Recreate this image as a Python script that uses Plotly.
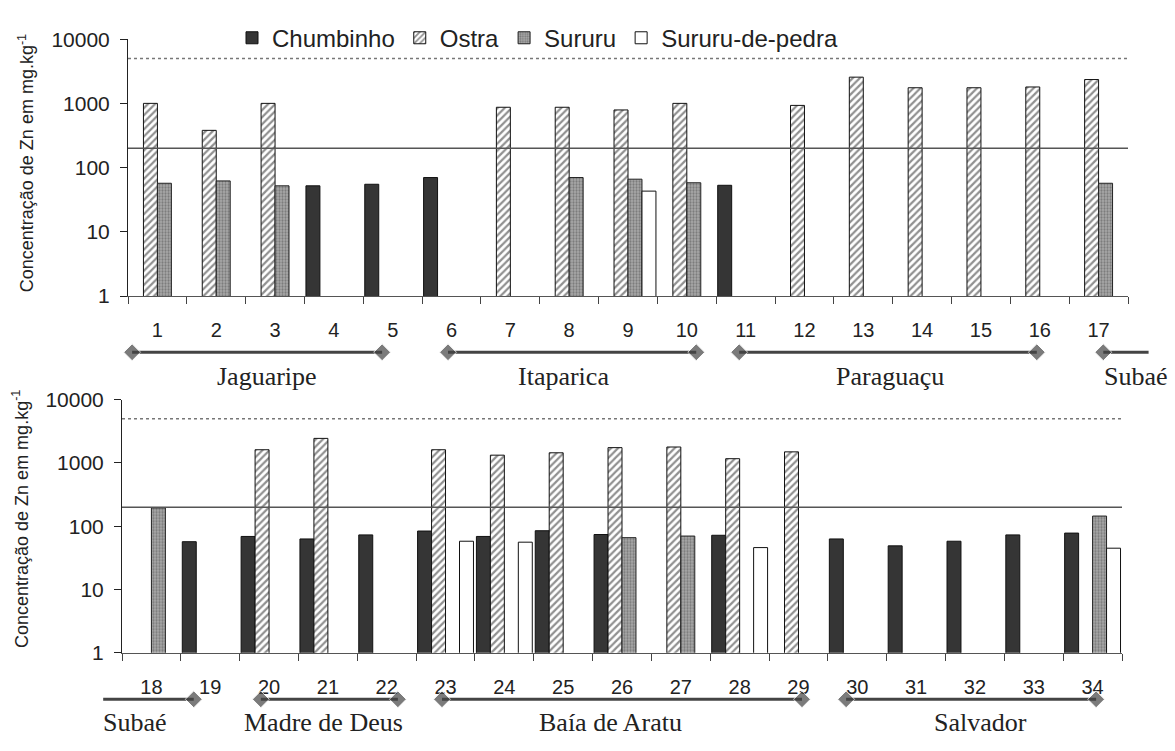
import plotly.graph_objects as go

W, H = 1175, 751

# ---------------- data ----------------
stations_top = list(range(1, 18))
stations_bot = list(range(18, 35))

chumbinho_top = [None, None, None, 52, 55, 70, None, None, None, None, 53, None, None, None, None, None, None]
ostra_top = [1000, 380, 1000, None, None, None, 870, 870, 790, 1000, None, 930, 2560, 1750, 1750, 1800, 2350]
sururu_top = [57, 62, 52, None, None, None, None, 70, 66, 58, None, None, None, None, None, None, 57]
pedra_top = [None, None, None, None, None, None, None, None, 43, None, None, None, None, None, None, None, None]

chumbinho_bot = [None, 57, 69, 63, 73, 84, 69, 85, 74, None, 72, None, 63, 49, 58, 73, 78]
ostra_bot = [None, None, 1620, 2450, None, 1620, 1330, 1450, 1750, 1790, 1170, 1500, None, None, None, None, None]
sururu_bot = [195, None, None, None, None, None, None, None, 66, 70, None, None, None, None, None, None, 145]
pedra_bot = [None, None, None, None, None, 58, 56, None, None, None, 46, None, None, None, None, None, 45]

series_names = ["Chumbinho", "Ostra", "Sururu", "Sururu-de-pedra"]
y_ticks = [1, 10, 100, 1000, 10000]
limit_solid = 200
limit_dotted = 5000

regions_top = [("Jaguaripe", 0.57, 4.82, 2.86, True, True),
               ("Itaparica", 5.94, 10.16, 7.9, True, True),
               ("Paraguaçu", 10.89, 15.95, 13.45, True, True),
               ("Subaé", 17.08, 17.85, 17.64, True, False)]
regions_bot = [("Subaé", 17.18, 18.72, 17.72, False, True),
               ("Madre de Deus", 19.86, 22.19, 20.93, True, True),
               ("Baía de Aratu", 22.94, 29.06, 25.8, True, True),
               ("Salvador", 29.81, 34.06, 32.1, True, True)]

# ---------------- geometry (pixels) ----------------
TOP = dict(x0=128, x1=1128, y10k=28, y1=293, lo=0.5, hi=17.5)
BOT = dict(x0=122, x1=1122, y10k=400, y1=661, lo=17.5, hi=34.5)

SANS = "Liberation Sans"
SERIF = "Liberation Serif"

styles = [
    dict(color="#353535", line=dict(color="#111", width=1)),
    dict(color="white", line=dict(color="#111", width=1),
         pattern=dict(shape="/", fgcolor="#222", bgcolor="white", size=5, solidity=0.45)),
    dict(color="#a0a0a0", line=dict(color="#222", width=1),
         pattern=dict(shape=".", fgcolor="#4a4a4a", bgcolor="#ababab", size=3, solidity=0.45)),
    dict(color="white", line=dict(color="#111", width=1)),
]

fig = go.Figure()

top_series = [chumbinho_top, ostra_top, sururu_top, pedra_top]
bot_series = [chumbinho_bot, ostra_bot, sururu_bot, pedra_bot]

for i, (name, vals) in enumerate(zip(series_names, top_series)):
    fig.add_trace(go.Bar(x=stations_top, y=vals, name=name, marker=styles[i],
                         xaxis="x", yaxis="y", legendgroup=name, showlegend=True))
for i, (name, vals) in enumerate(zip(series_names, bot_series)):
    fig.add_trace(go.Bar(x=stations_bot, y=vals, name=name, marker=styles[i],
                         xaxis="x2", yaxis="y2", legendgroup=name, showlegend=False))

# limit lines
for g, xa, ya in [(TOP, "x", "y"), (BOT, "x2", "y2")]:
    fig.add_trace(go.Scatter(x=[g["lo"], g["hi"]], y=[limit_solid, limit_solid], mode="lines",
                             line=dict(color="#555", width=1.6), xaxis=xa, yaxis=ya,
                             showlegend=False, hoverinfo="skip"))
    fig.add_trace(go.Scatter(x=[g["lo"], g["hi"]], y=[limit_dotted, limit_dotted], mode="lines",
                             line=dict(color="#777", width=1.5, dash="dot"), xaxis=xa, yaxis=ya,
                             showlegend=False, hoverinfo="skip"))


def xrange_full(g):
    ppu = (g["x1"] - g["x0"]) / (g["hi"] - g["lo"])
    return [g["lo"] - g["x0"] / ppu, g["hi"] + (W - g["x1"]) / ppu]


# region brackets on full-page overlay axes
annotations = []
for regions, xa, line_y, lab_y in [(regions_top, "x3", 351, 376), (regions_bot, "x4", 709, 733)]:
    for name, a, b, c, da, db in regions:
        fig.add_trace(go.Scatter(x=[a, b], y=[line_y, line_y], mode="lines+markers",
                                 line=dict(color="#444", width=3),
                                 marker=dict(symbol="diamond", size=[13 if da else 0, 13 if db else 0],
                                             color="#444"),
                                 xaxis=xa, yaxis="y3", showlegend=False, hoverinfo="skip"))
        annotations.append(dict(x=c, y=lab_y, xref=xa, yref="y3", text=name, showarrow=False,
                                xanchor="center", yanchor="middle",
                                font=dict(family=SERIF, size=26, color="#222")))

# y titles
for xc, yc in [(26, 156), (21, 523)]:
    annotations.append(dict(x=xc / W, y=1 - yc / H, xref="paper", yref="paper",
                            xanchor="center", yanchor="middle",
                            text="Concentração de Zn em mg.kg<sup>-1</sup>", textangle=-90,
                            showarrow=False, font=dict(family=SANS, size=18, color="#222")))


def xaxis_def(g, anchor):
    bounds = [g["lo"] + k for k in range(int(g["hi"] - g["lo"]) + 1)]
    return dict(domain=[g["x0"] / W, g["x1"] / W], range=[g["lo"], g["hi"]], anchor=anchor,
                tickmode="array", tickvals=list(range(int(g["lo"] + 0.5), int(g["hi"] + 0.5))),
                ticks="", showline=True, linecolor="#555", linewidth=1, showgrid=False,
                zeroline=False, ticklabelstandoff=16,
                tickfont=dict(family=SANS, size=20, color="#222"),
                minor=dict(tickmode="array", tickvals=bounds, ticks="outside", ticklen=7,
                           tickcolor="#444", tickwidth=1, showgrid=False))


def yaxis_def(g, anchor):
    return dict(type="log", range=[0, 4], domain=[1 - g["y1"] / H, 1 - g["y10k"] / H], anchor=anchor,
                tickmode="array", tickvals=y_ticks, ticktext=[str(v) for v in y_ticks],
                ticks="outside", ticklen=7, tickcolor="#222", showline=True, linecolor="#222",
                linewidth=1, showgrid=False, zeroline=False, ticklabelstandoff=6,
                tickfont=dict(family=SANS, size=21, color="#222"))


fig.update_layout(
    width=W, height=H, margin=dict(l=0, r=0, t=0, b=0, pad=0),
    paper_bgcolor="white", plot_bgcolor="rgba(0,0,0,0)",
    barmode="group", bargap=0.05, bargroupgap=0,
    xaxis=xaxis_def(TOP, "y"), yaxis=yaxis_def(TOP, "x"),
    xaxis2=xaxis_def(BOT, "y2"), yaxis2=yaxis_def(BOT, "x2"),
    xaxis3=dict(domain=[0, 1], range=xrange_full(TOP), visible=False, anchor="y3"),
    xaxis4=dict(domain=[0, 1], range=xrange_full(BOT), visible=False, anchor="y3", overlaying="x3"),
    yaxis3=dict(domain=[0, 1], range=[H, 0], visible=False, anchor="x3"),
    legend=dict(orientation="h", x=232 / W, y=1 - 27 / H, xanchor="left", yanchor="middle",
                font=dict(family=SANS, size=24, color="#222"), bgcolor="rgba(0,0,0,0)",
                itemclick=False, tracegroupgap=0),
    annotations=annotations,
    showlegend=True,
)

fig.write_html("out.html")
